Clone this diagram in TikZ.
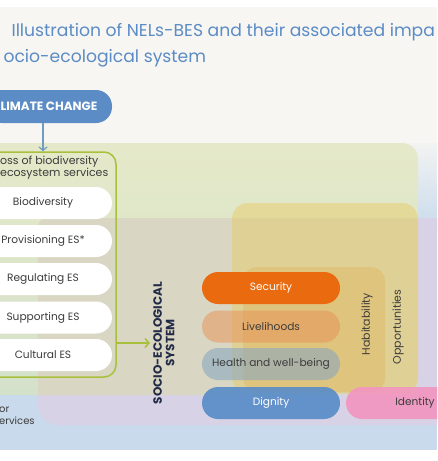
\documentclass[tikz,border=0pt]{standalone}
\usepackage{fontspec}
\setmainfont{Poppins}
\usetikzlibrary{arrows.meta}
\definecolor{paper}{HTML}{F8F6F2}
\definecolor{bluebg}{HTML}{C9DAEC}
\definecolor{bluetop}{HTML}{F2F3F2}
\definecolor{greenbg}{HTML}{E5E9C9}
\definecolor{greenlow}{HTML}{D4E1CA}
\definecolor{purplebg}{HTML}{D8D2E6}
\definecolor{beigebg}{HTML}{D9D7C3}
\definecolor{yellowbox}{HTML}{E8C860}
\definecolor{yellowin}{HTML}{E0B050}
\definecolor{boxgreen}{HTML}{A8C03C}
\definecolor{titleblue}{HTML}{5B8CC6}
\definecolor{arrowblue}{HTML}{6E9CC2}
\definecolor{navy}{HTML}{222B47}
\definecolor{textgrey}{HTML}{3C3C3C}
\definecolor{secorange}{HTML}{EA6A10}
\definecolor{livorange}{HTML}{E89055}
\definecolor{healthgrey}{HTML}{8AA8C0}
\definecolor{dignblue}{HTML}{5A8DC8}
\definecolor{idpink}{HTML}{F296C0}
\tikzset{
  pill/.style={rounded corners=16pt, minimum height=32pt, minimum width=138pt, inner sep=0pt, font=\fontsize{10.6}{13}\selectfont},
  espill/.style={pill, fill=white, text=textgrey},
  vlabel/.style={rotate=90, text=textgrey, font=\fontsize{11}{13}\selectfont}
}
\begin{document}
\begin{tikzpicture}[x=1pt,y=-1pt]
\useasboundingbox (0,0) rectangle (437,461);
\clip (0,0) rectangle (437,461);
\fill[white] (0,0) rectangle (437,461);
\fill[paper] (0,7) rectangle (437,450);
\shade[top color=bluetop, bottom color=bluebg] (0,143) rectangle (437,230);
\fill[bluebg] (0,229) rectangle (437,450);
\shade[top color=greenbg, bottom color=greenlow, rounded corners=16pt] (-30,143) rectangle (418,395);
\fill[purplebg, rounded corners=20pt] (38,218) rectangle (470,425);
\fill[beigebg] (38,395) -- (38,238) .. controls (38,218) .. (58,218) -- (418,218) -- (418,395) -- cycle;
\fill[yellowbox, opacity=.45, rounded corners=16pt] (232,203) rectangle (418,393);
\fill[yellowin, opacity=.35, rounded corners=14pt] (243,267) rectangle (385,392);

\node[anchor=base west, text=titleblue, font=\fontsize{17.2}{19}\selectfont] (ttl1) at (8,36) {Illustration of NELs-BES and their associated impa};
\node[anchor=base west, text=titleblue, font=\fontsize{17.2}{19}\selectfont] (ttl2) at (0,62) {ocio-ecological system};

\node[pill, fill=titleblue, minimum width=126pt, minimum height=33pt, text=white, font=\bfseries\fontsize{12}{14}\selectfont] (clim) at (49,106.5) {LIMATE CHANGE};

\node[draw=boxgreen, line width=1.5pt, rounded corners=12pt, minimum width=146pt, minimum height=225pt] (loss) at (43,264.5) {};
\node[anchor=west, align=left, text=textgrey, font=\fontsize{11}{11.5}\selectfont, inner sep=0pt] (losst) at (0,167.5) {oss of biodiversity\\ecosystem services};
\foreach \n/\t/\y in {bio/Biodiversity/203, prov/Provisioning ES*/241, reg/Regulating ES/279, sup/Supporting ES/317.5, cult/Cultural ES/355}
  \node[espill] (\n) at (43,\y) {\t};

\draw[arrowblue, line width=1.2pt, -{Straight Barb[length=3.5pt,width=8pt]}] (clim.south -| loss.north) -- (loss.north);
\coordinate (ses) at (150,343);
\draw[boxgreen, line width=1.5pt, -{Straight Barb[length=4pt,width=9pt]}] (loss.east |- ses) -- (ses);

\node[rotate=90, align=center, text=navy, font=\bfseries\fontsize{12}{12.5}\selectfont] (sesl) at (164,343) {SOCIO-ECOLOGICAL\\SYSTEM};

\node[pill, fill=secorange, text=white] (sec) at (271,288) {Security};
\node[pill, fill=livorange, fill opacity=.5, text opacity=1, text=textgrey] (liv) at (271,326.5) {Livelihoods};
\node[pill, fill=healthgrey, fill opacity=.6, text opacity=1, text=textgrey] (hea) at (271,364) {Health and well-being};
\node[pill, fill=dignblue, fill opacity=.92, text opacity=1, text=white] (dig) at (271,403) {Dignity};
\node[pill, fill=idpink, fill opacity=.92, text opacity=1, text=textgrey] (ide) at (415,403) {Identity};

\node[vlabel] (hab) at (367,324) {Habitability};
\node[vlabel] (opp) at (398,327) {Opportunities};

\node[anchor=west, align=left, text=textgrey, font=\fontsize{10}{12}\selectfont, inner sep=0pt] (drv) at (-1,416) {or\\ervices};
\end{tikzpicture}
\end{document}
